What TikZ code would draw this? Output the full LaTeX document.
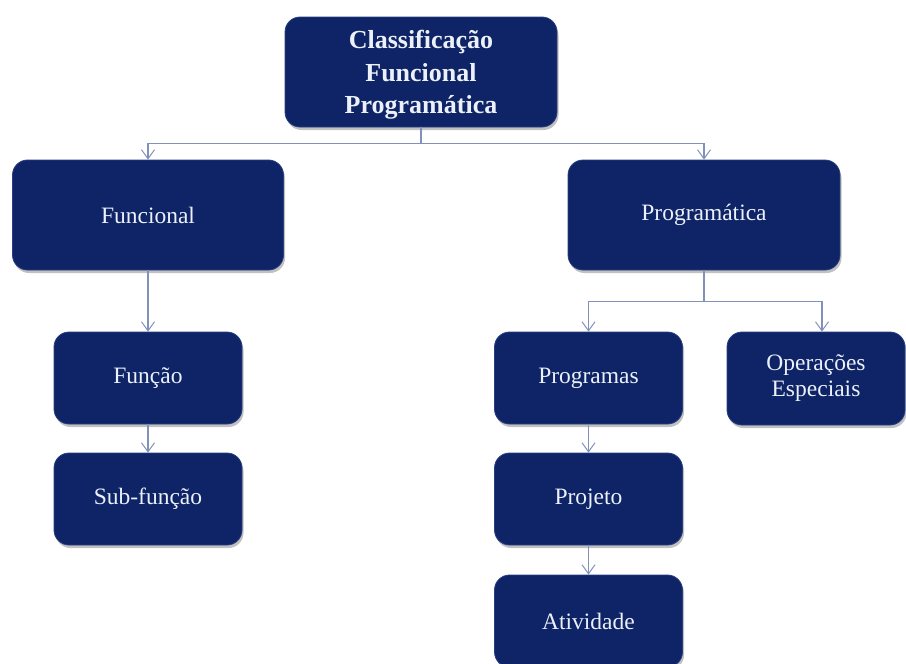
\documentclass[tikz,border=0pt]{standalone}
\usepackage{fontspec}
\setmainfont{Liberation Serif}
\usetikzlibrary{arrows.meta,shadows}
\definecolor{navy}{RGB}{14,36,102}
\definecolor{navyedge}{RGB}{40,62,128}
\definecolor{conncol}{RGB}{128,146,186}
\definecolor{boxtext}{RGB}{236,240,248}
\tikzset{
  box/.style={rectangle, rounded corners=15pt, fill=navy, draw=navyedge, line width=0.8pt,
    text=boxtext, align=center, inner sep=2pt,
    drop shadow={shadow xshift=1.5pt, shadow yshift=-3pt, opacity=0.35, fill=black!70},
    font=\fontsize{23.5}{26}\selectfont},
  conn/.style={draw=conncol, line width=1.1pt, -{Straight Barb[length=9pt,width=13pt,line width=1pt]}},
}
\begin{document}
\begin{tikzpicture}[x=1pt,y=-1pt]
\useasboundingbox (0,0) rectangle (906,664);
\node[box, minimum width=272pt, minimum height=110pt, font=\bfseries\fontsize{26}{32.3}\selectfont] (top) at (421,72) {\rule{0pt}{24pt}Classificação\\Funcional\\Programática};
\node[box, minimum width=271pt, minimum height=110pt] (fun) at (148,215) {Funcional};
\node[box, minimum width=272pt, minimum height=110pt] (prg) at (704,215) {Programática};
\node[box, minimum width=188pt, minimum height=92pt] (fnc) at (148,378) {Função};
\node[box, minimum width=188pt, minimum height=92pt] (sub) at (148,499) {Sub-função};
\node[box, minimum width=188pt, minimum height=92pt] (pgs) at (588.5,378) {Programas};
\node[box, minimum width=178pt, minimum height=93pt] (ops) at (816,378.5) {Operações\\Especiais};
\node[box, minimum width=188pt, minimum height=92pt] (pjt) at (588.5,499) {Projeto};
\node[box, minimum width=188pt, minimum height=92pt] (atv) at (588.5,621) {Atividade};
\coordinate (opsin) at ([xshift=6pt]ops.north);
\draw[conn] (top.south) -- ++(0,16) -| (fun.north);
\draw[conn] (top.south) -- ++(0,16) -| (prg.north);
\draw[conn] (fun.south) -- (fnc.north);
\draw[conn] (fnc.south) -- (sub.north);
\draw[conn] (prg.south) -- ++(0,31) -| (pgs.north);
\draw[conn] (prg.south) -- ++(0,31) -| (opsin);
\draw[conn] (pgs.south) -- (pjt.north);
\draw[conn] (pjt.south) -- (atv.north);
\end{tikzpicture}
\end{document}
